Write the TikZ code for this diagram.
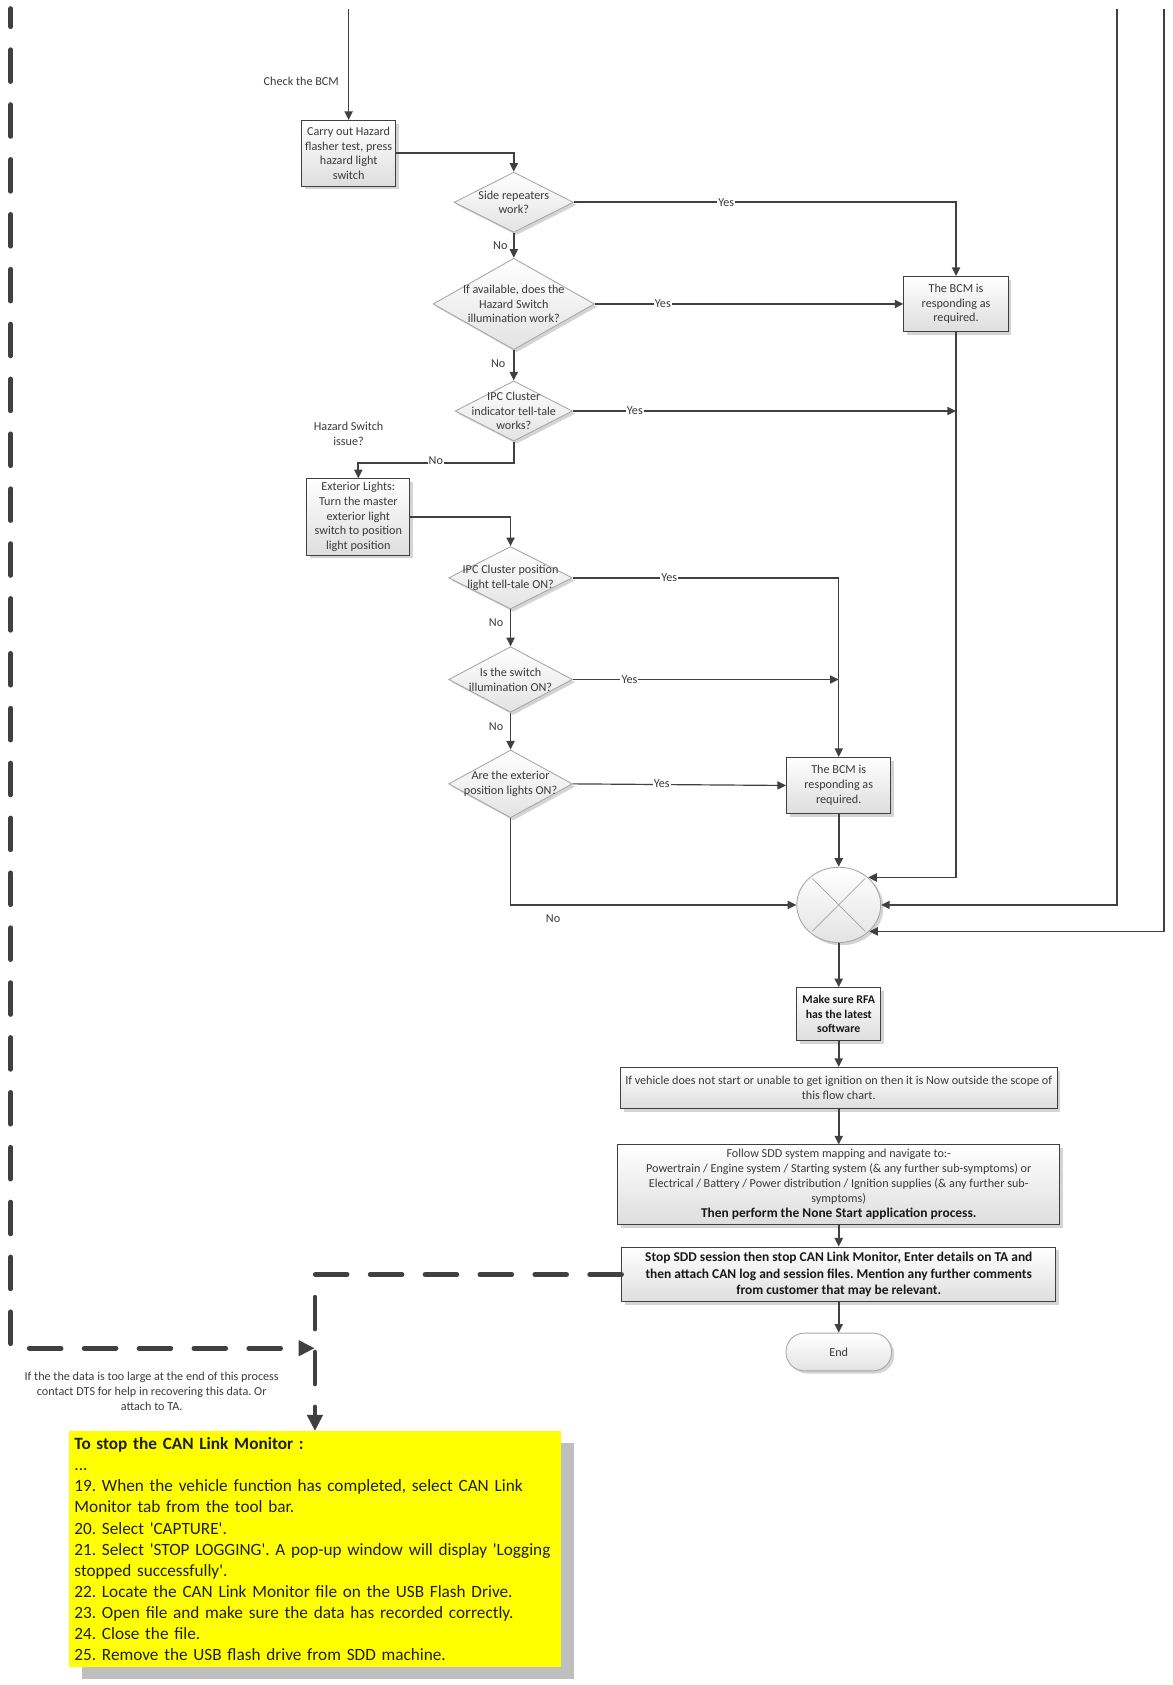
\documentclass[tikz,border=0pt]{standalone}
\usepackage{fontspec}
\setmainfont{Carlito}[Ligatures=TeXOff]
\usetikzlibrary{arrows.meta,shapes.geometric,shadows,calc}
\definecolor{ln}{HTML}{404040}
\definecolor{tx}{HTML}{3A3A3A}
\definecolor{bd}{HTML}{A6A6A6}
\definecolor{shd}{HTML}{D4D4D4}
\definecolor{ylw}{HTML}{FFFF00}
\definecolor{yshd}{HTML}{BFBFBF}
\frenchspacing
\begin{document}
\begin{tikzpicture}[x=1pt,y=-1pt,
  every node/.style={font=\fontsize{11.3}{13.7}\selectfont, text=tx},
  conn/.style={draw=ln, line width=1.6pt, -{Triangle[length=8pt,width=7.5pt]}},
  yesconn/.style={conn, line width=1.1pt},
  dashconn/.style={draw=ln, line width=4.5pt, line cap=round, dash pattern=on 29.5pt off 21.5pt, -{Triangle[length=15pt,width=14pt]}},
  procbox/.style={draw=ln, line width=0.9pt, top color=white, bottom color=black!13, align=center, inner sep=0pt,
    drop shadow={shadow xshift=3pt, shadow yshift=-3pt, fill=shd, opacity=1}},
  dia/.style={diamond, draw=bd, line width=0.8pt, top color=white, bottom color=black!11, inner sep=0pt,
    drop shadow={shadow xshift=2.5pt, shadow yshift=-2.5pt, fill=shd, opacity=1}},
  dtext/.style={align=center, inner sep=0pt},
  lbl/.style={inner sep=1pt, align=center},
  lblw/.style={lbl, fill=white},
  boldtxt/.style={font=\bfseries\fontsize{12.5}{15.5}\selectfont, text=black!90},
  yelbox/.style={fill=ylw, text width=447pt, align=left, inner xsep=5pt, inner ysep=0pt, minimum height=219pt,
    font=\fontsize{16}{19.6}\selectfont, text=black!88,
    drop shadow={shadow xshift=12pt, shadow yshift=-11pt, fill=yshd, opacity=1}}
]
\useasboundingbox (0,0) rectangle (1090,1566);

% ---------- nodes ----------
\node[procbox, minimum width=88pt, minimum height=61pt] (box1) at (324,142.5) {Carry out Hazard\\flasher test, press\\hazard light\\switch};
\node[lbl] (chk) at (280,76) {Check the BCM};

\node[dia, minimum width=111pt, minimum height=56pt] (d1) at (477.5,188) {};
\node[dtext] (d1t) at (d1) {Side repeaters\\work?};
\node[dia, minimum width=150pt, minimum height=85pt] (d2) at (477.5,282.5) {};
\node[dtext] (d2t) at (d2) {If available, does the\\Hazard Switch\\illumination work?};
\node[dia, minimum width=109pt, minimum height=56pt] (d3) at (477.5,382) {};
\node[dtext] (d3t) at (d3) {IPC Cluster\\indicator tell-tale\\works?};

\node[procbox, minimum width=97pt, minimum height=51pt] (bcm1) at (888.5,282.5) {The BCM is\\responding as\\required.};

\node[lbl] (hz) at (324,403) {Hazard Switch\\issue?};
\node[procbox, minimum width=96pt, minimum height=71pt] (box2) at (333,480.5) {Exterior Lights:\\Turn the master\\exterior light\\switch to position\\light position};

\node[dia, minimum width=115pt, minimum height=58pt] (d4) at (474.5,537) {};
\node[dtext] (d4t) at (d4) {IPC Cluster position\\light tell-tale ON?};
\node[dia, minimum width=115pt, minimum height=61pt] (d5) at (474.5,631.5) {};
\node[dtext] (d5t) at (d5) {Is the switch\\illumination ON?};
\node[dia, minimum width=115pt, minimum height=63pt] (d6) at (474.5,728.5) {};
\node[dtext] (d6t) at (d6) {Are the exterior\\position lights ON?};

\node[procbox, minimum width=97pt, minimum height=52pt] (bcm2) at (779.5,730) {The BCM is\\responding as\\required.};

\node[ellipse, draw=bd, line width=0.8pt, top color=white, bottom color=black!11, inner sep=0pt,
  minimum width=78pt, minimum height=70pt,
  drop shadow={shadow xshift=2.5pt, shadow yshift=-2.5pt, fill=shd, opacity=1}] (ell) at (779.5,841) {};
\draw[bd, line width=0.7pt] ($(ell.center)!0.93!(ell.45)$) -- ($(ell.center)!0.93!(ell.225)$)
  ($(ell.center)!0.93!(ell.135)$) -- ($(ell.center)!0.93!(ell.315)$);

\node[procbox, minimum width=78pt, minimum height=49pt, font=\bfseries\fontsize{11}{13.5}\selectfont, text=black!90] (rfa) at (779.5,942.5) {Make sure RFA\\has the latest\\software};
\node[procbox, minimum width=406pt, minimum height=38pt] (outs) at (779.5,1011) {If vehicle does not start or unable to get ignition on then it is Now outside the scope of\\this flow chart.};
\node[procbox, minimum width=411pt, minimum height=74pt] (follow) at (779.5,1101) {Follow SDD system mapping and navigate to:-\\Powertrain / Engine system / Starting system (\& any further sub-symptoms) or\\Electrical / Battery / Power distribution / Ignition supplies (\& any further sub-\\symptoms)\\[1pt]{\bfseries\fontsize{12.5}{15}\selectfont\color{black!90}Then perform the None Start application process.}};
\node[procbox, boldtxt, minimum width=403pt, minimum height=51pt] (stop) at (779.5,1184.5) {Stop SDD session then stop CAN Link Monitor, Enter details on TA and\\then attach CAN log and session files. Mention any further comments\\from customer that may be relevant.};
\node[draw=bd, line width=0.8pt, rounded corners=17pt, top color=white, bottom color=black!11, inner sep=0pt,
  minimum width=98pt, minimum height=35pt,
  drop shadow={shadow xshift=2.5pt, shadow yshift=-2.5pt, fill=shd, opacity=1}] (endn) at (779.5,1256.5) {End};

\node[lbl] (note) at (141,1293) {If the the data is too large at the end of this process\\contact DTS for help in recovering this data. Or\\attach to TA.};
\node[yelbox, anchor=north west] (yel) at (64,1330) {\textbf{To stop the CAN Link Monitor :}\\
...\\
19. When the vehicle function has completed, select CAN Link\\
Monitor tab from the tool bar.\\
20. Select 'CAPTURE'.\\
21. Select 'STOP LOGGING'. A pop-up window will display 'Logging\\
stopped successfully'.\\
22. Locate the CAN Link Monitor file on the USB Flash Drive.\\
23. Open file and make sure the data has recorded correctly.\\
24. Close the file.\\
25. Remove the USB flash drive from SDD machine.};

% ---------- coordinates ----------
\coordinate (top1) at (324,8);
\coordinate (top2) at (1038,8);
\coordinate (top3) at (1082,8);
\coordinate (j1) at (bcm1.south |- d3.east);
\coordinate (j2) at (bcm2.north |- d5.east);
\coordinate (dtl) at (10,8);
\coordinate (dj) at (292.5,1253);

% ---------- connectors ----------
\draw[conn] (top1) -- (box1.north);
\draw[conn] (box1.east) -| (d1.north);
\draw[conn] (d1.east) -| (bcm1.north);
\draw[conn] (d1.south) -- (d2.north);
\draw[conn] (d2.east) -- (bcm1.west);
\draw[conn] (d2.south) -- (d3.north);
\draw[yesconn] (d3.east) -- (j1);
\draw[conn] (bcm1.south) |- (ell.43);
\draw[conn] (d3.south) -- ++(0,20) -| (box2.north);
\draw[conn] (box2.east) -| (d4.north);
\draw[conn, line width=1.3pt] (d4.east) -| (bcm2.north);
\draw[conn] (d4.south) -- (d5.north);
\draw[yesconn] (d5.east) -- (j2);
\draw[conn] (d5.south) -- (d6.north);
\draw[yesconn] (d6.east) -- (bcm2.west);
\draw[conn] (d6.south) |- (ell.west);
\draw[conn] (bcm2.south) -- (ell.north);
\draw[conn] (top2) |- (ell.east);
\draw[conn] (top3) |- (ell.-41);
\draw[conn] (ell.south) -- (rfa.north);
\draw[conn] (rfa.south) -- (outs.north);
\draw[conn] (outs.south) -- (follow.north);
\draw[conn] (follow.south) -- (stop.north);
\draw[conn] (stop.south) -- (endn.north);
\draw[dashconn, dash phase=12.75pt] (dtl) |- (dj);
\draw[dashconn] (stop.west) -| (yel.north);

% ---------- labels ----------
\node[lblw] (y1) at (675,188) {Yes};
\node[lblw] (y2) at (616,282.5) {Yes};
\node[lblw] (y3) at (590,382) {Yes};
\node[lblw] (y4) at (622,537) {Yes};
\node[lblw] (y5) at (585,631.5) {Yes};
\node[lblw] (y6) at (615,728.5) {Yes};
\node[lbl] (n1) at (465,228) {No};
\node[lbl] (n2) at (463,338) {No};
\node[lblw] (n3) at (405,428) {No};
\node[lbl] (n4) at (461,579) {No};
\node[lbl] (n5) at (461,675) {No};
\node[lbl] (n6) at (514,854) {No};
\end{tikzpicture}
\end{document}
